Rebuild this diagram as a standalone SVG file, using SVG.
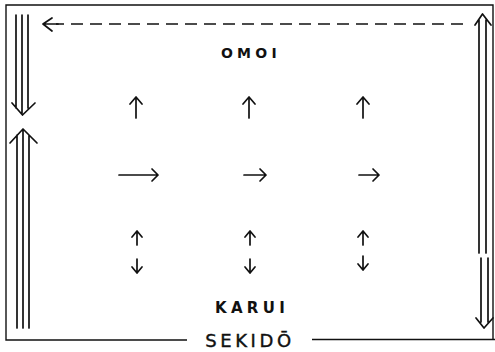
<svg xmlns="http://www.w3.org/2000/svg" width="495" height="352" viewBox="0 0 495 352">
  <style>
    .ln { fill: none; stroke: #111; stroke-width: 1.7; stroke-linecap: round; stroke-linejoin: round; }
    .fr { fill: none; stroke: #111; stroke-width: 1.4; }
    .dash { fill: none; stroke: #111; stroke-width: 1.7; stroke-dasharray: 12 7; }
    .lbl { font-family: "DejaVu Sans", "Liberation Sans", sans-serif; font-weight: bold; fill: #111; }
    .title { font-family: "DejaVu Sans", "Liberation Sans", sans-serif; fill: #111; stroke: #111; stroke-width: 0.4; }
  </style>
  <defs>
    <!-- small single-line arrows, drawn pointing up from the origin (tip at 0,0) -->
    <path id="upTall" class="ln" d="M0,0 V21 M-6,7 L0,0 L6,7"/>
    <path id="upShort" class="ln" d="M0,0 V14 M-5,6 L0,0 L5,6"/>
  </defs>

  <rect width="495" height="352" fill="#fff"/>

  <!-- frame, broken at the bottom by the title -->
  <g id="frame">
    <path class="fr" d="M187,340 H6 V5 H493 V340"/>
    <path class="fr" d="M312,339.5 H495"/>
  </g>

  <g id="labels">
    <text class="lbl" x="251" y="58" font-size="14" letter-spacing="4.3" text-anchor="middle">OMOI</text>
    <text class="lbl" x="252" y="313" font-size="15" letter-spacing="4.3" text-anchor="middle">KARUI</text>
    <text class="title" x="250" y="347" font-size="18" letter-spacing="3.6" text-anchor="middle">SEKIDŌ</text>
  </g>

  <g id="connectors">
    <!-- dashed return along the top -->
    <path class="dash" d="M463,24 H56"/>
    <path class="ln" d="M52,18 L43,24 L52,31 M43,24 H58"/>

    <!-- left: triple arrow downwards -->
    <path class="ln" d="M16,15 V108 M22,15 V113 M28,15 V108 M12,103 L22.5,115 L35,103"/>
    <!-- left: triple arrow upwards -->
    <path class="ln" d="M17,135 V328 M23,130 V328 M29,135 V328 M10,143 L23,129 L37,143"/>

    <!-- right: double arrow upwards -->
    <path class="ln" d="M479,253 V20 M486,253 V20 M475,25 L482.5,14 L491,25"/>
    <!-- right: double arrow downwards -->
    <path class="ln" d="M481,258 V322 M488,258 V322 M476,318 L484,328 L493,318"/>

    <!-- first row: upward arrows -->
    <use href="#upTall" x="136" y="97"/>
    <use href="#upTall" x="249" y="97"/>
    <use href="#upTall" x="363" y="97"/>

    <!-- second row: rightward arrows -->
    <path class="ln" d="M119,175 H158 M152,169 L158,175 L152,181"/>
    <path class="ln" d="M244,175 H266 M260,169 L266,175 L260,181"/>
    <path class="ln" d="M359,175 H379 M373,169 L379,175 L373,181"/>

    <!-- third row: up and down pairs -->
    <use href="#upShort" x="137" y="231"/>
    <use href="#upShort" x="250" y="231"/>
    <use href="#upShort" x="363" y="231"/>
    <use href="#upShort" transform="translate(137,273) scale(1,-1)"/>
    <use href="#upShort" transform="translate(250,273) scale(1,-1)"/>
    <use href="#upShort" transform="translate(363,270) scale(1,-1)"/>
  </g>
</svg>
